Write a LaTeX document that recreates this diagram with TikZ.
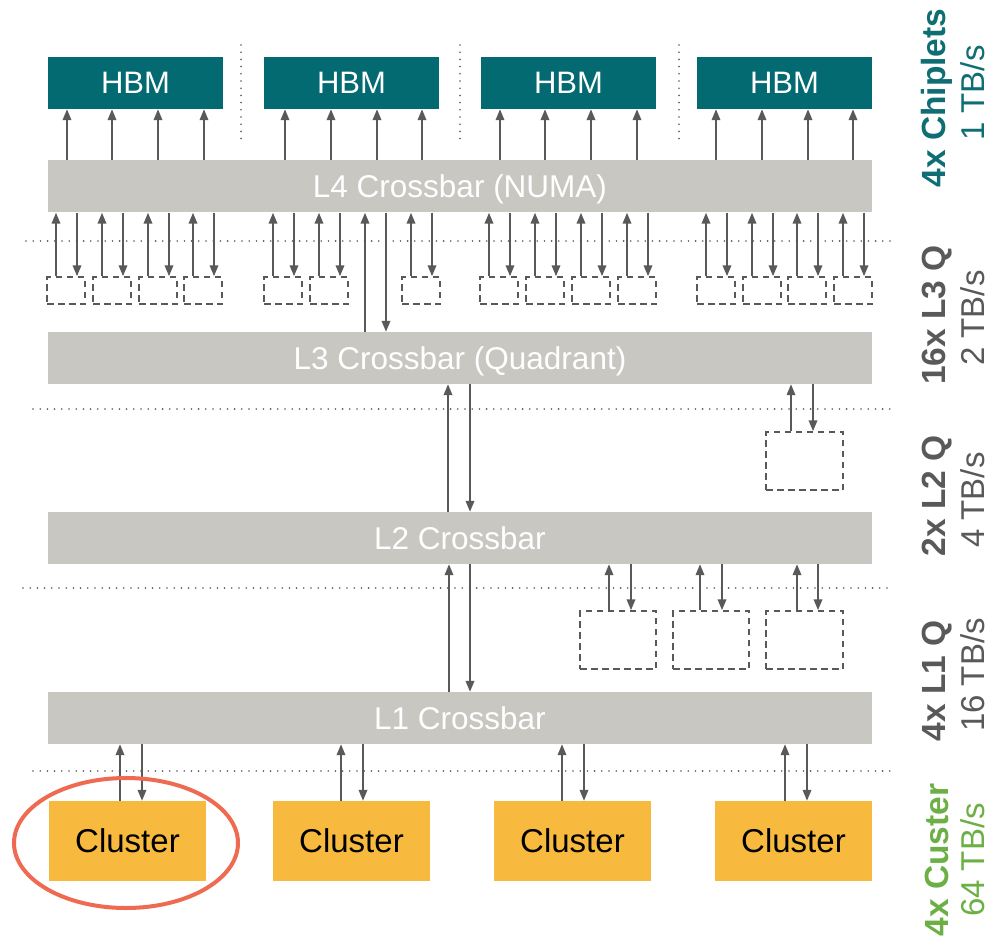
\documentclass[tikz,border=0pt]{standalone}
\usepackage{fontspec}
\setmainfont{Liberation Sans}
\usetikzlibrary{arrows.meta}
\definecolor{hbmcol}{HTML}{036A72}
\definecolor{barcol}{HTML}{C8C7C2}
\definecolor{clcol}{HTML}{F7BA3E}
\definecolor{arrcol}{HTML}{595959}
\definecolor{tealtxt}{HTML}{0E6E74}
\definecolor{greentxt}{HTML}{6BAF45}
\definecolor{graytxt}{HTML}{595959}
\definecolor{ringcol}{HTML}{EE6A50}
\tikzset{
  hbm/.style={rectangle, fill=hbmcol, inner sep=0, minimum width=175pt, minimum height=52pt,
    text=white, text depth=0pt, font=\fontsize{31}{36}\selectfont},
  bar/.style={rectangle, fill=barcol, inner sep=0, minimum width=824pt, minimum height=52pt,
    text=white, text depth=0pt, font=\fontsize{31.5}{36}\selectfont},
  cluster/.style={rectangle, fill=clcol, inner sep=0, minimum width=157pt, minimum height=80pt,
    text=black, text depth=0pt, font=\fontsize{33}{38}\selectfont},
  qbox/.style={rectangle, draw=arrcol, line width=1.5pt, dash pattern=on 6.5pt off 4.5pt, inner sep=0},
  arr/.style={draw=arrcol, line width=2pt, -{Triangle[length=11pt,width=8.5pt]}},
  sep/.style={draw=arrcol, line width=1.8pt, line cap=round, dash pattern=on 0pt off 7.2pt},
  boldlab/.style={rotate=90, font=\bfseries\fontsize{33.5}{38}\selectfont},
  normlab/.style={rotate=90, font=\fontsize{33}{38}\selectfont}
}
\begin{document}
\begin{tikzpicture}[x=1pt,y=-1pt]
\useasboundingbox (0,0) rectangle (995,941);

% memory stacks
\node[hbm] (h1) at (135.5,83) {HBM};
\node[hbm] (h2) at (351.5,83) {HBM};
\node[hbm] (h3) at (568.5,83) {HBM};
\node[hbm] (h4) at (784.5,83) {HBM};

% crossbar levels
\node[bar] (l4) at (460,186.5) {L4 Crossbar (NUMA)};
\node[bar] (l3) at (460,358) {L3 Crossbar (Quadrant)};
\node[bar] (l2) at (460,538) {L2 Crossbar};
\node[bar] (l1) at (460,718) {L1 Crossbar};

% clusters
\node[cluster] (c1) at (127.5,841) {Cluster};
\node[cluster] (c2) at (351.5,841) {Cluster};
\node[cluster] (c3) at (572.5,841) {Cluster};
\node[cluster] (c4) at (793.5,841) {Cluster};

% separators
\draw[sep] (26,241) -- (890,241);
\draw[sep] (33,409) -- (892,409);
\draw[sep] (23,588) -- (890,588);
\draw[sep] (33,771) -- (890,771);
\foreach \x in {241,460,679} \draw[sep] (\x,45) -- (\x,143);

% L4 -> HBM links
\foreach \x in {67,112,158,204} \draw[arr] (\x,0 |- l4.north) -- (\x,0 |- h1.south);
\foreach \x in {285,331,377,422} \draw[arr] (\x,0 |- l4.north) -- (\x,0 |- h2.south);
\foreach \x in {500,545,591,637} \draw[arr] (\x,0 |- l4.north) -- (\x,0 |- h3.south);
\foreach \x in {716,762,808,853} \draw[arr] (\x,0 |- l4.north) -- (\x,0 |- h4.south);

% L3 queues under the L4 crossbar
\foreach \l [count=\i] in {47,93,139,184,264,310,402,480,526,572,618,697,743,788,834} {
  \node[qbox, minimum width=38pt, minimum height=27pt] (q\i) at ({\l+19},290.5) {};
  \draw[arr] ({\l+9},0 |- q\i.north) -- ({\l+9},0 |- l4.south);
  \draw[arr] ({\l+30},0 |- l4.south) -- ({\l+30},0 |- q\i.north);
}

% L4 <-> L3
\draw[arr] (365,0 |- l3.north) -- (365,0 |- l4.south);
\draw[arr] (386,0 |- l4.south) -- (386,0 |- l3.north);

% L3 <-> L2
\draw[arr] (448,0 |- l2.north) -- (448,0 |- l3.south);
\draw[arr] (470,0 |- l3.south) -- (470,0 |- l2.north);

% L2 queue
\node[qbox, minimum width=77pt, minimum height=58pt] (r1) at (804.5,461) {};
\draw[arr] (791,0 |- r1.north) -- (791,0 |- l3.south);
\draw[arr] (813,0 |- l3.south) -- (813,0 |- r1.north);

% L2 <-> L1
\draw[arr] (449,0 |- l1.north) -- (449,0 |- l2.south);
\draw[arr] (470,0 |- l2.south) -- (470,0 |- l1.north);

% L1 queues
\node[qbox, minimum width=76pt, minimum height=58pt] (s1) at (618,640) {};
\node[qbox, minimum width=76pt, minimum height=58pt] (s2) at (711,640) {};
\node[qbox, minimum width=77pt, minimum height=58pt] (s3) at (804.5,640) {};
\draw[arr] (609,0 |- s1.north) -- (609,0 |- l2.south);
\draw[arr] (631,0 |- l2.south) -- (631,0 |- s1.north);
\draw[arr] (700,0 |- s2.north) -- (700,0 |- l2.south);
\draw[arr] (722,0 |- l2.south) -- (722,0 |- s2.north);
\draw[arr] (797,0 |- s3.north) -- (797,0 |- l2.south);
\draw[arr] (818,0 |- l2.south) -- (818,0 |- s3.north);

% L1 <-> clusters
\draw[arr] (120,0 |- c1.north) -- (120,0 |- l1.south);
\draw[arr] (142,0 |- l1.south) -- (142,0 |- c1.north);
\draw[arr] (341,0 |- c2.north) -- (341,0 |- l1.south);
\draw[arr] (363,0 |- l1.south) -- (363,0 |- c2.north);
\draw[arr] (562,0 |- c3.north) -- (562,0 |- l1.south);
\draw[arr] (584,0 |- l1.south) -- (584,0 |- c3.north);
\draw[arr] (785,0 |- c4.north) -- (785,0 |- l1.south);
\draw[arr] (807,0 |- l1.south) -- (807,0 |- c4.north);

% highlight ring
\draw[ringcol, line width=4pt] (c1.center) ++(-1.5,2) ellipse [x radius=112, y radius=65];

% level labels
\node[boldlab, text=tealtxt] (t1) at (937,98) {4x Chiplets};
\node[normlab, text=tealtxt] (u1) at (973,93) {1 TB/s};
\node[boldlab, text=graytxt] (t2) at (937,315) {16x L3 Q};
\node[normlab, text=graytxt] (u2) at (973,318) {2 TB/s};
\node[boldlab, text=graytxt] (t3) at (937,496) {2x L2 Q};
\node[normlab, text=graytxt] (u3) at (973,500) {4 TB/s};
\node[boldlab, text=graytxt] (t4) at (937,681) {4x L1 Q};
\node[normlab, text=graytxt] (u4) at (973,675) {16 TB/s};
\node[boldlab, text=greentxt] (t5) at (937,860) {4x Custer};
\node[normlab, text=greentxt] (u5) at (973,860) {64 TB/s};
\end{tikzpicture}
\end{document}
